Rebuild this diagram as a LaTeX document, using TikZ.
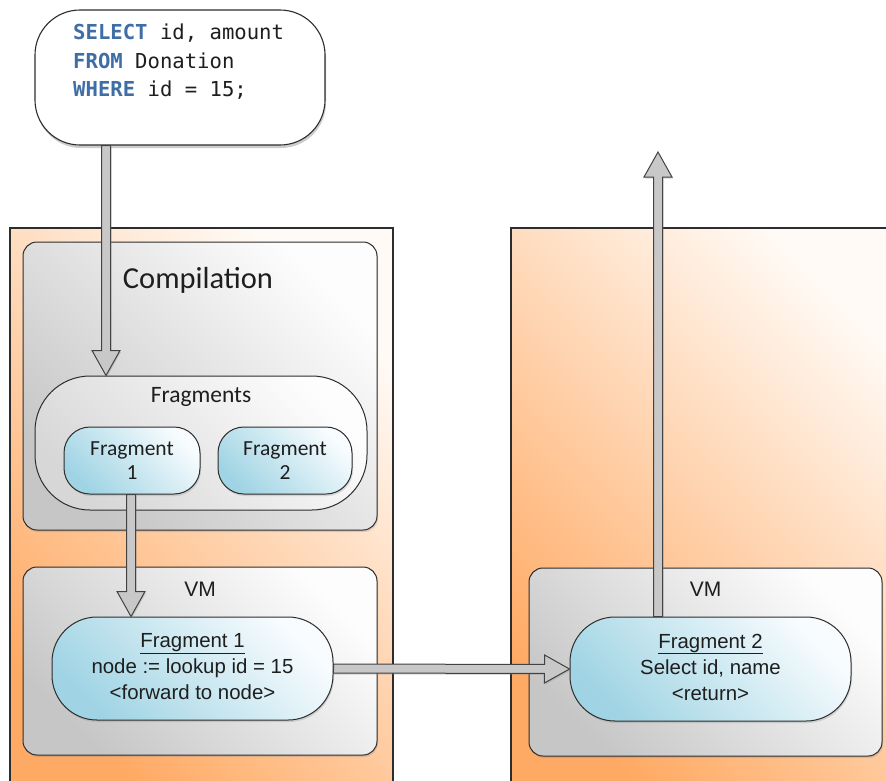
\documentclass[tikz,border=0pt]{standalone}
\usepackage{fontspec}
\setmainfont{Liberation Sans}
\newfontfamily\labelfont{Carlito}
\newfontfamily\codefont{DejaVu Sans Mono}
\usetikzlibrary{calc,shadows}

\definecolor{orangeDeep}{RGB}{255,170,100}
\definecolor{orangePale}{RGB}{255,250,245}
\definecolor{greyDeep}{RGB}{198,198,198}
\definecolor{greyPale}{RGB}{253,253,253}
\definecolor{blueDeep}{RGB}{160,212,228}
\definecolor{bluePale}{RGB}{248,252,254}
\definecolor{keyword}{RGB}{62,110,165}
\definecolor{ink}{RGB}{30,30,30}
\definecolor{arrowfill}{RGB}{200,200,200}
\definecolor{edge}{RGB}{45,45,45}

% hollow block arrow from #1 to the tip #2 (both named coordinates)
\newcommand\blockarrow[2]{%
  \path ($(#2)!25pt!(#1)$) coordinate (headbase);
  \draw[flowarrow]
    ($(#1)!4.5pt!90:(#2)$) -- ($(headbase)!4.5pt!90:(#2)$)
    -- ($(headbase)!14pt!90:(#2)$) -- (#2)
    -- ($(headbase)!14pt!-90:(#2)$) -- ($(headbase)!4.5pt!-90:(#2)$)
    -- ($(#1)!4.5pt!-90:(#2)$) -- cycle;
}

\tikzset{
  hostbox/.style={draw=edge, line width=1.1pt,
    bottom color=orangeDeep, top color=orangePale, shading angle=-45,
    drop shadow={shadow xshift=-1pt, shadow yshift=-1pt, opacity=.25}},
  panel/.style={draw=edge, line width=1pt, rounded corners=14pt, inner sep=0pt,
    bottom color=greyDeep, top color=greyPale, shading angle=-45,
    drop shadow={shadow xshift=1pt, shadow yshift=-2pt, opacity=.25}},
  group/.style={draw=edge, line width=1pt, rounded corners=55pt, inner sep=0pt,
    bottom color=greyDeep!70!white, top color=greyPale, shading angle=-45},
  fragpill/.style={draw=edge, line width=1pt, inner sep=0pt,
    bottom color=blueDeep, top color=bluePale, shading angle=-45,
    drop shadow={shadow xshift=1pt, shadow yshift=-2pt, opacity=.25}},
  query/.style={draw=edge, line width=1.1pt, rounded corners=45pt, inner sep=0pt,
    fill=white, drop shadow={shadow xshift=1pt, shadow yshift=-3pt, opacity=.4}},
  flowarrow/.style={draw=edge!90, line width=1pt, fill=arrowfill, line join=miter,
    drop shadow={shadow xshift=1pt, shadow yshift=-1.5pt, opacity=.3}},
  title/.style={text=ink, font=\labelfont\fontsize{30.5}{34}\selectfont},
  smalltitle/.style={text=ink, font=\labelfont\fontsize{23.5}{27}\selectfont},
  fraglabel/.style={text=ink, align=center, font=\labelfont\fontsize{21.5}{24}\selectfont},
  vmlabel/.style={text=ink, font=\fontsize{21}{24}\selectfont},
  steplabel/.style={text=ink, align=center, font=\fontsize{20.4}{26}\selectfont},
}

\begin{document}
\begin{tikzpicture}[x=1pt, y=-1pt]
\useasboundingbox (0,0) rectangle (886,780);
\begin{scope}
\clip (0,0) rectangle (886,780);
% the two hosts
\path[hostbox] (10,228) rectangle (393,800);
\path[hostbox] (511,228) rectangle (910,800);

% compilation stage
\node[panel, minimum width=354pt, minimum height=288pt] (compile) at (200,386) {};
\node[title] (compiletitle) at (198,280) {Compilation};
\node[group, minimum width=332pt, minimum height=134pt] (frags) at (201,443) {};
\node[smalltitle] (fragstitle) at (201,397) {Fragments};
\node[fragpill, rounded corners=26pt, minimum width=136pt, minimum height=67pt] (fragA) at (132,460.5) {};
\node[fraglabel] (fragAtext) at (132,461) {Fragment\\1};
\node[fragpill, rounded corners=26pt, minimum width=134pt, minimum height=67pt] (fragB) at (285,460.5) {};
\node[fraglabel] (fragBtext) at (285,461) {Fragment\\2};

% virtual machines
\node[panel, minimum width=354pt, minimum height=188pt] (vmA) at (200,661) {};
\node[vmlabel] (vmAtitle) at (200,589) {VM};
\node[fragpill, rounded corners=45pt, minimum width=281pt, minimum height=103pt] (runA) at (192.5,668.5) {};
\node[steplabel] (runAtext) at (192.5,667) {\underline{Fragment 1}\\node := lookup id = 15\\<forward to node>};

\node[panel, minimum width=353pt, minimum height=188pt] (vmB) at (705.5,662) {};
\node[vmlabel] (vmBtitle) at (705.5,589) {VM};
\node[fragpill, rounded corners=45pt, minimum width=281pt, minimum height=104pt] (runB) at (710.5,669) {};
\node[steplabel] (runBtext) at (710.5,667) {\underline{Fragment 2}\\Select id, name\\<return>};

% the query
\node[query, minimum width=290pt, minimum height=135pt] (sql) at (180,77.5) {};
\node[anchor=north west, align=left, inner sep=0pt, text=ink,
      font=\codefont\fontsize{20.6}{28.5}\selectfont] (sqltext) at (73,24)
  {\textbf{\color{keyword}SELECT} id, amount\\
   \textbf{\color{keyword}FROM} Donation\\
   \textbf{\color{keyword}WHERE} id = 15;};

% data flow
\coordinate (laneA) at (106,0);
\coordinate (laneB) at (131,0);
\coordinate (laneC) at (658,0);
\coordinate (result) at (658,152);
\coordinate (q1) at (laneA |- sql.south);
\coordinate (q2) at (laneA |- frags.north);
\coordinate (q3) at (laneB |- fragA.south);
\coordinate (q4) at (laneB |- runA.north);
\coordinate (q5) at (laneC |- runB.north);
\blockarrow{q1}{q2}
\blockarrow{q3}{q4}
\blockarrow{runA.east}{runB.west}
\blockarrow{q5}{result}
\end{scope}
\end{tikzpicture}
\end{document}
